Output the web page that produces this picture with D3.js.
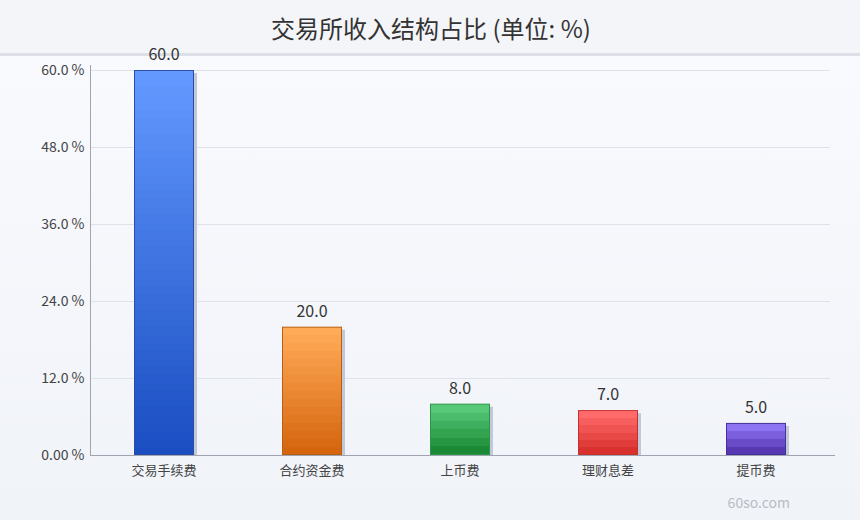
<!DOCTYPE html>
<html><head><meta charset="utf-8">
<script src="https://cdn.jsdelivr.net/npm/d3@7"></script>
<style>
html,body{margin:0;padding:0;background:#f4f6fa;}
svg{display:block;font-family:"Noto Sans CJK SC","Noto Sans",sans-serif;}
</style></head>
<body>
<svg id="chart" width="860" height="520"></svg>
<script>
const title = "交易所收入结构占比 (单位: %)";
const categories = ["交易手续费", "合约资金费", "上币费", "理财息差", "提币费"];
const values = [60.0, 20.0, 8.0, 7.0, 5.0];
const yTicks = [0, 12, 24, 36, 48, 60];
const topColors = ["#6399ff", "#ffab58", "#56c878", "#ff6b6b", "#8d72f2"];
const bottomColors = ["#1a4ec2", "#d6650f", "#1b8a36", "#d8312e", "#5738b2"];
const strokeColors = ["#2a4ea6", "#b8600f", "#2a9648", "#c5302d", "#46309a"];
const watermark = "60so.com";

const W = 860, H = 520;
const svg = d3.select("#chart");
const defs = svg.append("defs");

const bg = defs.append("linearGradient").attr("id","bg").attr("x1",0).attr("y1",0).attr("x2",0).attr("y2",1);
bg.append("stop").attr("offset",0).attr("stop-color","#f9fafe");
bg.append("stop").attr("offset",1).attr("stop-color","#f0f3f8");

svg.append("rect").attr("x",0).attr("y",0).attr("width",W).attr("height",53).attr("fill","#f4f5f9");
svg.append("rect").attr("x",0).attr("y",56).attr("width",W).attr("height",H-56).attr("fill","url(#bg)");
svg.append("rect").attr("x",0).attr("y",53).attr("width",W).attr("height",3).attr("fill","#dcdfe7");

svg.append("text").attr("x",431).attr("y",38).attr("text-anchor","middle")
  .attr("font-size",24).attr("fill","#333").text(title);

const x = d3.scaleBand().domain(categories).range([90,830]).paddingInner(88/148).paddingOuter(44/148);
const y = d3.scaleLinear().domain([0,60]).range([455,70]);

// gridlines
svg.append("g").selectAll("line").data(yTicks.filter(d=>d>0)).join("line")
  .attr("x1",90).attr("x2",830).attr("y1",d=>y(d)+0.5).attr("y2",d=>y(d)+0.5)
  .attr("stroke","#dfe2ea").attr("stroke-width",1);

// y axis
const yAxis = d3.axisLeft(y).tickValues(yTicks).tickSize(0).tickPadding(6)
  .tickFormat(d=> d===0 ? "0.00 %" : d3.format(".1f")(d)+" %");
const gy = svg.append("g").attr("transform","translate(90.5,0)").call(yAxis);
gy.select(".domain").attr("stroke","#a0a4b0").attr("d","M0,65V455");
gy.selectAll("text").attr("font-size",14).attr("fill","#444").attr("font-family","\"Noto Sans CJK SC\",sans-serif");

// x axis
const xAxis = d3.axisBottom(x).tickSize(0).tickPadding(10);
const gx = svg.append("g").attr("transform","translate(0,455.5)").call(xAxis);
gx.select(".domain").attr("stroke","#a0a4b0").attr("d","M90,0H835");
gx.selectAll("text").attr("font-size",13).attr("fill","#444").attr("font-family","\"Noto Sans CJK SC\",sans-serif");

// gradients (stepped bands)
const data = categories.map((c,i)=>({c, v: values[i], i}));
data.forEach(d=>{
  const h = y(0)-y(d.v);
  const n = Math.max(3, Math.round(h/8));
  const g = defs.append("linearGradient").attr("id","g"+d.i).attr("x1",0).attr("y1",0).attr("x2",0).attr("y2",1);
  const interp = d3.interpolateRgb(topColors[d.i], bottomColors[d.i]);
  for(let k=0;k<n;k++){
    const c = interp(k/(n-1));
    g.append("stop").attr("offset",k/n).attr("stop-color",c);
    g.append("stop").attr("offset",(k+1)/n).attr("stop-color",c);
  }
});

// shadows
svg.append("g").selectAll("rect").data(data).join("rect")
  .attr("x",d=>x(d.c)+3).attr("y",d=>y(d.v)+3)
  .attr("width",x.bandwidth()).attr("height",d=>y(0)-y(d.v)-3)
  .attr("fill","#c3c8d8");

// bars
svg.append("g").selectAll("rect").data(data).join("rect")
  .attr("x",d=>x(d.c)+0.5).attr("y",d=>y(d.v)+0.5)
  .attr("width",x.bandwidth()-1).attr("height",d=>y(0)-y(d.v)-1)
  .attr("fill",d=>"url(#g"+d.i+")").attr("stroke",d=>strokeColors[d.i]).attr("stroke-width",1);

// value labels
svg.append("g").selectAll("text").data(data).join("text")
  .attr("x",d=>x(d.c)+x.bandwidth()/2).attr("y",d=>y(d.v)-10)
  .attr("text-anchor","middle").attr("font-size",16).attr("fill","#333")
  .text(d=>d3.format(".1f")(d.v));

svg.append("text").attr("x",790).attr("y",508).attr("text-anchor","end")
  .attr("font-size",14).attr("fill","#b8bcc6").text(watermark);
</script>
</body></html>
